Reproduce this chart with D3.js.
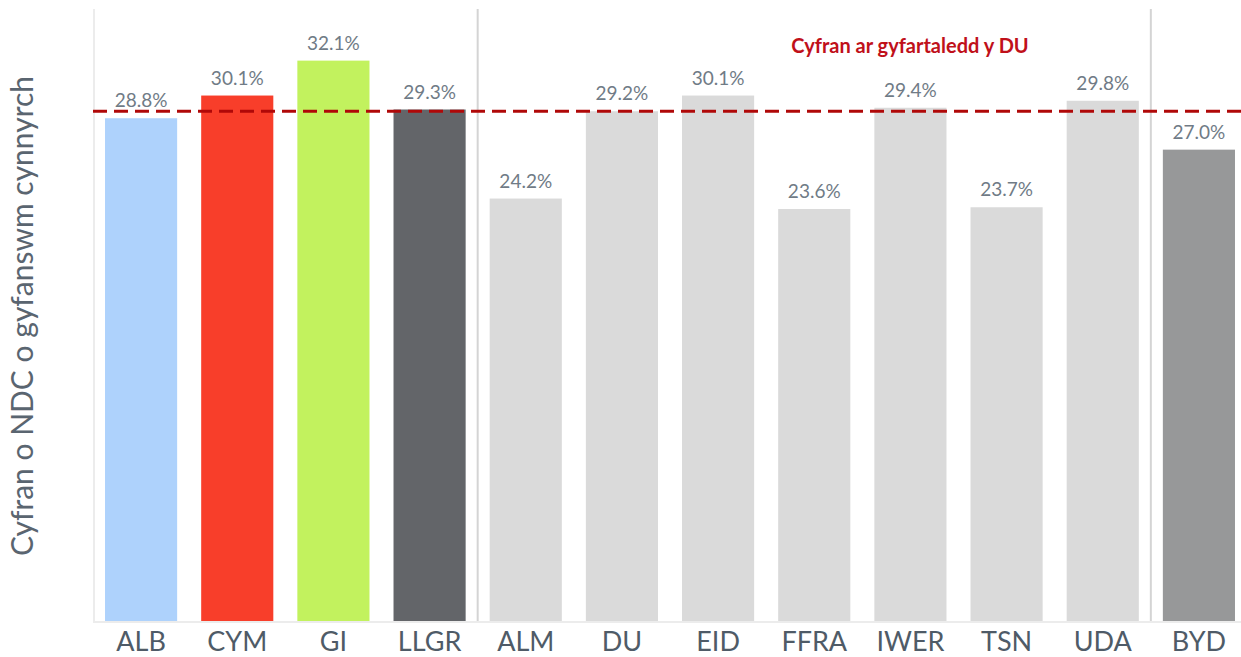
<!DOCTYPE html>
<html>
<head>
<meta charset="utf-8">
<script src="https://cdn.jsdelivr.net/npm/d3@7"></script>
<style>
  body { margin: 0; background: #fff; }
  text { font-family: Lato, "Open Sans", sans-serif; }
  .bar_label { fill: #707b86; font-size: 19px; }
  .cat_label { fill: #4f5b67; font-size: 27px; }
  .y_title { fill: #5a6570; font-size: 30px; }
  .avg_label { fill: #c0101a; font-size: 20px; font-weight: bold; }
</style>
</head>
<body>
<div id="chart"></div>
<script>

/* share of GVA from manufacturing - bar chart */

var categories = ["ALB", "CYM", "GI", "LLGR", "ALM", "DU", "EID", "FFRA", "IWER", "TSN", "UDA", "BYD"],
    values = [28.8, 30.1, 32.1, 29.3, 24.2, 29.2, 30.1, 23.6, 29.4, 23.7, 29.8, 27.0],
    barColours = ["#aed2fc", "#f83e2a", "#c2f25e", "#636569", "#dadada", "#dadada",
                  "#dadada", "#dadada", "#dadada", "#dadada", "#dadada", "#979899"],
    groupBreaks = ["ALM", "BYD"],
    ukAverage = 29.2,
    avgLabel = "Cyfran ar gyfartaledd y DU",
    yTitle = "Cyfran o NDC o gyfanswm cynnyrch",
    yMax = 35;

var data = categories.map(function(c, i) {
  return { cat: c, value: values[i], colour: barColours[i] };
});

// sizes

var width = 1241,
    height = 657,
    marginLeft = 93,
    marginTop = 10,
    plotRight = 1247,
    baseline = 621;

var formatPer = function(v) { return v.toFixed(1) + "%"; };

// scales

var xScale = d3.scaleBand()
  .domain(categories)
  .range([marginLeft, plotRight])
  .paddingInner(0.25)
  .paddingOuter(0.125);

var yScale = d3.scaleLinear()
  .domain([0, yMax])
  .range([baseline, marginTop]);

// svg

var svg = d3.select("#chart")
  .append("svg")
    .attr("width", width)
    .attr("height", height);

// faint axis lines

svg.append("line")
  .attr("x1", xScale.range()[0] + 1)
  .attr("x2", xScale.range()[0] + 1)
  .attr("y1", yScale(yMax) - 1)
  .attr("y2", baseline)
  .attr("stroke", "#ececec")
  .attr("stroke-width", 2);

svg.append("line")
  .attr("x1", xScale.range()[0])
  .attr("x2", width)
  .attr("y1", baseline + 1)
  .attr("y2", baseline + 1)
  .attr("stroke", "#ececec")
  .attr("stroke-width", 2);

// group separators

groupBreaks.forEach(function(c) {
  var x = xScale(c) - xScale.step() * xScale.paddingInner() / 2;
  svg.append("line")
    .attr("x1", x)
    .attr("x2", x)
    .attr("y1", yScale(yMax) - 1)
    .attr("y2", baseline)
    .attr("stroke", "#d4d4d4")
    .attr("stroke-width", 2);
});

// bars

svg.selectAll(".bar")
  .data(data)
  .enter()
  .append("rect")
    .attr("class", "bar")
    .attr("x", function(d) { return xScale(d.cat); })
    .attr("y", function(d) { return yScale(d.value); })
    .attr("width", xScale.bandwidth())
    .attr("height", function(d) { return baseline - yScale(d.value); })
    .attr("fill", function(d) { return d.colour; });

// data labels

svg.selectAll(".bar_label")
  .data(data)
  .enter()
  .append("text")
    .attr("class", "bar_label")
    .attr("x", function(d) { return xScale(d.cat) + xScale.bandwidth() / 2; })
    .attr("y", function(d) { return yScale(d.value) - 11; })
    .attr("text-anchor", "middle")
    .text(function(d) { return formatPer(d.value); });

// category axis

var xAxis = svg.append("g")
  .attr("transform", "translate(0," + baseline + ")")
  .call(d3.axisBottom(xScale).tickSize(0).tickPadding(0));

xAxis.select(".domain").remove();

xAxis.attr("font-size", null).attr("font-family", null);

xAxis.selectAll("text")
  .attr("class", "cat_label")
  .attr("dy", null)
  .attr("y", 30)
  .attr("fill", null);

// y title

svg.append("text")
  .attr("class", "y_title")
  .attr("transform", "translate(33,316) rotate(-90)")
  .attr("text-anchor", "middle")
  .text(yTitle);

// UK average line

svg.append("line")
  .attr("x1", xScale.range()[0])
  .attr("x2", width)
  .attr("y1", yScale(ukAverage))
  .attr("y2", yScale(ukAverage))
  .attr("stroke", "#b00808")
  .attr("stroke-width", 3)
  .attr("stroke-dasharray", "14,7");

svg.append("text")
  .attr("class", "avg_label")
  .attr("x", 910)
  .attr("y", 53)
  .attr("text-anchor", "middle")
  .text(avgLabel);

</script>
</body>
</html>
